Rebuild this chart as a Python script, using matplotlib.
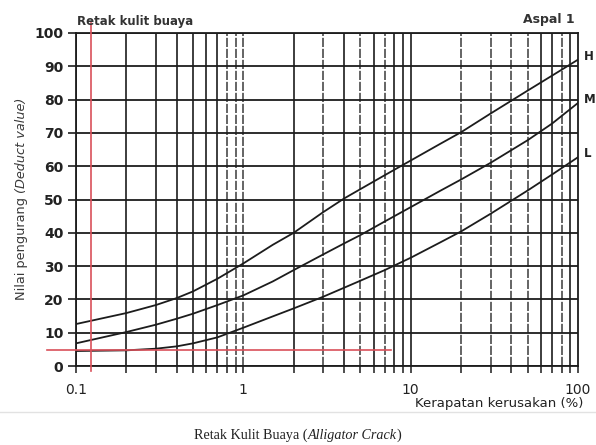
import matplotlib
matplotlib.use("Agg")
import matplotlib.pyplot as plt
import numpy as np

# Deduct value curves for alligator cracking (asphalt pavement)
density = [0.1, 0.2, 0.3, 0.4, 0.5, 0.7, 1, 1.5, 2, 3, 4, 5, 7, 10, 15, 20, 30, 50, 70, 100]
deduct_high = [12.6, 15.9, 18.3, 20.4, 22.4, 26.2, 30.8, 36.4, 40.0, 46.2, 50.3, 53.1, 57.3,
               61.7, 66.7, 70.2, 75.8, 82.7, 87.2, 92.0]
deduct_medium = [6.8, 10.2, 12.4, 14.2, 15.7, 18.3, 21.2, 25.4, 28.8, 33.5, 36.8, 39.3, 43.4,
                 47.7, 52.6, 56.0, 61.0, 67.8, 72.8, 79.0]
deduct_low = [4.5, 4.7, 5.2, 5.9, 6.8, 8.6, 11.5, 14.9, 17.3, 20.8, 23.5, 25.6, 28.8,
              32.5, 37.1, 40.4, 45.7, 52.7, 57.5, 62.7]
severity_labels = ["H", "M", "L"]

# Worked reading: density 0.123 % gives a deduct value of about 4.7
reading_density = 0.123
reading_deduct = 4.7
reading_line_end = 7.6

y_ticks = list(range(0, 101, 10))
x_ticks = [0.1, 1, 10, 100]
x_tick_labels = ["0.1", "1", "10", "100"]

W, H = 596, 445
fig = plt.figure(figsize=(W / 100, H / 100), dpi=100)
fig.patch.set_facecolor("white")

left, right, top, bottom = 76, 578, 33, 366
ax = fig.add_axes([left / W, 1 - bottom / H, (right - left) / W, (bottom - top) / H])
ax.set_xscale("log")
ax.set_xlim(0.1, 100)
ax.set_ylim(0, 100)

ink = "#1c1c1c"

# log grid: every integer step inside each decade
broken = {0.8, 0.9, 1, 3, 5, 7, 20, 30, 40, 50, 80}
for dec in [0.1, 1, 10]:
    for k in range(1, 10):
        xv = round(dec * k, 3)
        if xv in broken:
            ax.axvline(xv, color="#3a3a3a", lw=1.1, ls=(0, (6, 1.2)), zorder=1)
        else:
            ax.axvline(xv, color=ink, lw=1.2, zorder=1)
for yv in y_ticks:
    ax.axhline(yv, color=ink, lw=1.3, zorder=1)

for s in ax.spines.values():
    s.set_color(ink)
    s.set_linewidth(1.3)

minor_pos = [round(d * k, 3) for d in [0.1, 1, 10] for k in range(2, 10)]
ax.set_xticks(x_ticks)
ax.set_xticklabels(x_tick_labels)
ax.set_xticks(minor_pos, minor=True)
ax.xaxis.set_minor_formatter(matplotlib.ticker.NullFormatter())
ax.tick_params(axis="x", which="both", direction="out", length=5, width=1.1,
               color=ink, pad=7, labelsize=10)
ax.set_yticks(y_ticks)
ax.tick_params(axis="y", direction="out", length=6, width=1.2, color=ink,
               pad=3, labelsize=10)
for lab in ax.get_yticklabels():
    lab.set_fontweight("bold")
    lab.set_color("#222222")
for lab in ax.get_xticklabels():
    lab.set_color("#222222")

for series in [deduct_high, deduct_medium, deduct_low]:
    ax.plot(density, series, color=ink, lw=1.3, zorder=3)

red = "#d9505a"
ax.plot([reading_density, reading_density], [103, -1.5], color=red, lw=1.2,
        clip_on=False, zorder=4)
ax.plot([0.067, reading_line_end], [reading_deduct, reading_deduct], color=red, lw=1.2,
        clip_on=False, zorder=4)

# severity labels at the right end of each curve
for name, series in zip(severity_labels, [deduct_high, deduct_medium, deduct_low]):
    ax.annotate(name, xy=(100, series[-1]), xytext=(4.5, 2.5), textcoords="offset points",
                ha="left", va="center", fontsize=8.5, fontweight="bold", color="#222222",
                annotation_clip=False)

fig.text(77 / W, 1 - 21 / H, "Retak kulit buaya", ha="left", va="center",
         fontsize=8.5, fontweight="bold", color="#333333")
fig.text(575 / W, 1 - 20 / H, "Aspal 1", ha="right", va="center",
         fontsize=9, fontweight="bold", color="#333333")
fig.text(583 / W, 1 - 403 / H, "Kerapatan kerusakan (%)", ha="right", va="center",
         fontsize=9.5, color="#222222")

renderer = fig.canvas.get_renderer()

# y label: regular part followed by italic part, rotated
yl_x, yl_cy = 22 / W, 1 - 199 / H
t1 = fig.text(yl_x, 0, "Nilai pengurang ", rotation=90, ha="center", va="bottom",
              fontsize=9.3, color="#3a3a3a")
t2 = fig.text(yl_x, 0, "(Deduct value)", rotation=90, ha="center", va="bottom",
              fontsize=9.3, style="italic", color="#3a3a3a")
h1 = t1.get_window_extent(renderer).height / H
h2 = t2.get_window_extent(renderer).height / H
y0 = yl_cy - (h1 + h2) / 2
t1.set_y(y0)
t2.set_y(y0 + h1)

# separator and caption below the chart
fig.add_artist(plt.Line2D([0, 1], [1 - 412 / H, 1 - 412 / H], color="#e2e2e2", lw=1.0))
cap_y = 1 - 435 / H
parts = [("Retak Kulit Buaya (", "normal"), ("Alligator Crack", "italic"), (")", "normal")]
texts = []
for s, st in parts:
    texts.append(fig.text(0, cap_y, s, ha="left", va="center", fontsize=10.2,
                          family="Liberation Serif", style=st, color="#222222"))
widths = [t.get_window_extent(renderer).width / W for t in texts]
xc = 298 / W - sum(widths) / 2
for t, w in zip(texts, widths):
    t.set_x(xc)
    xc += w

fig.savefig("out.png", dpi=100, facecolor="white")
